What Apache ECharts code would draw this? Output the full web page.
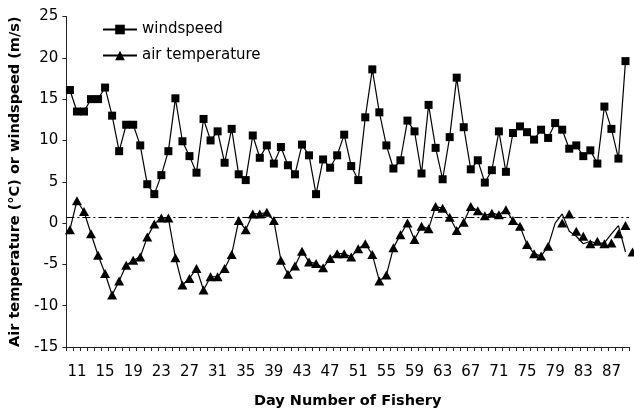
<!DOCTYPE html>
<html><head><meta charset="utf-8">
<script src="https://cdn.jsdelivr.net/npm/echarts@6/dist/echarts.min.js"></script>
<style>html,body{margin:0;padding:0;background:#fff}#c{width:634px;height:414px}</style>
</head><body><div id="c"></div>
<script>
// Day numbers of the fishery (categories)
const days = ['10','11','12','13','14','15','16','17','18','19',
  '20','21','22','23','24','25','26','27','28','29',
  '30','31','32','33','34','35','36','37','38','39',
  '40','41','42','43','44','45','46','47','48','49',
  '50','51','52','53','54','55','56','57','58','59',
  '60','61','62','63','64','65','66','67','68','69',
  '70','71','72','73','74','75','76','77','78','79',
  '80','81','82','83','84','85','86','87','88','89'];

// windspeed (m/s)
const windspeed = [16.1,13.5,13.5,15.0,15.0,16.4,13.0,8.7,11.9,11.9,
  9.4,4.7,3.5,5.8,8.7,15.1,9.9,8.1,6.1,12.6,
  10.0,11.1,7.3,11.4,5.9,5.2,10.6,7.9,9.4,7.2,
  9.2,7.0,5.9,9.5,8.2,3.5,7.7,6.7,8.2,10.7,
  6.9,5.2,12.8,18.6,13.4,9.4,6.6,7.6,12.4,11.1,
  6.0,14.3,9.1,5.3,10.4,17.6,11.6,6.5,7.6,4.9,
  6.4,11.1,6.2,10.9,11.7,11.0,10.1,11.3,10.3,12.1,
  11.3,9.0,9.4,8.1,8.8,7.2,14.1,11.4,7.8,19.6];

// air temperature (°C)
const airTemperature = [-0.8,2.7,1.4,-1.3,-3.9,-6.1,-8.7,-7.0,-5.1,-4.5,
  -4.1,-1.7,-0.1,0.6,0.6,-4.2,-7.5,-6.7,-5.5,-8.1,
  -6.5,-6.5,-5.5,-3.8,0.3,-0.8,1.1,1.1,1.3,0.3,
  -4.5,-6.2,-5.2,-3.4,-4.7,-4.9,-5.4,-4.3,-3.7,-3.7,
  -4.1,-3.1,-2.5,-3.8,-7.0,-6.3,-3.0,-1.4,0.0,-2.0,
  -0.4,-0.7,2.0,1.8,0.7,-0.9,0.1,2.0,1.5,0.9,
  1.2,1.0,1.6,0.3,-0.4,-2.6,-3.7,-4.0,-2.8,0.0,
  1.1,-1.0,-1.6,-2.5,-2.2,-2.5,-2.4,-1.3,-0.3,-3.5];

// from this day on, the original plots the triangle markers one day to the right of the line vertices
const markerShiftDay = '79';
const referenceLevel = 0.7;
const yMin = -15, yMax = 25, yStep = 5;
const labelEvery = 4, firstLabelDay = '11';

const shiftIdx = days.indexOf(markerShiftDay);
const firstLabelIdx = days.indexOf(firstLabelDay);

const lineData = airTemperature.map((v, i) => i < shiftIdx ? v : { value: v, symbol: 'none' });
const shiftedMarkers = [];
for (let i = shiftIdx; i < airTemperature.length; i++) shiftedMarkers.push([i + 1, airTemperature[i]]);

const FONT = 'DejaVu Sans';
const TRI = [10, 9];
const chart = echarts.init(document.getElementById('c'), null, { renderer: 'canvas' });
chart.setOption({
  animation: false,
  backgroundColor: '#fff',
  grid: { left: 66, right: 5, top: 16.5, bottom: 67, containLabel: false },
  legend: {
    orient: 'vertical', left: 97, top: 17, itemWidth: 34, itemHeight: 12, itemGap: 11,
    textStyle: { fontFamily: FONT, fontSize: 15, color: '#000' },
    data: ['windspeed', 'air temperature']
  },
  xAxis: {
    type: 'category', data: days, boundaryGap: true,
    name: 'Day Number of Fishery', nameLocation: 'middle', nameGap: 47,
    nameTextStyle: { fontFamily: FONT, fontWeight: 'bold', fontSize: 14.5, color: '#000' },
    axisLine: { show: true, onZero: false, lineStyle: { color: '#222', width: 1 } },
    axisTick: { show: true, length: 4, interval: 0, alignWithLabel: false, lineStyle: { color: '#222' } },
    axisLabel: { margin: 18, fontFamily: FONT, fontSize: 15, color: '#000',
      interval: (idx) => idx >= firstLabelIdx && (idx - firstLabelIdx) % labelEvery === 0 },
    splitLine: { show: false }
  },
  yAxis: {
    type: 'value', min: yMin, max: yMax, interval: yStep,
    name: 'Air temperature (°C) or windspeed (m/s)', nameLocation: 'middle', nameGap: 41,
    nameTextStyle: { fontFamily: FONT, fontWeight: 'bold', fontSize: 14.5, color: '#000' },
    axisLine: { show: true, lineStyle: { color: '#222', width: 1 } },
    axisTick: { show: true, length: 4, lineStyle: { color: '#222' } },
    axisLabel: { margin: 8, fontFamily: FONT, fontSize: 15, color: '#000' },
    splitLine: { show: false }
  },
  series: [
    {
      name: 'windspeed', type: 'line', data: windspeed,
      symbol: 'rect', symbolSize: 8, showAllSymbol: true,
      lineStyle: { color: '#000', width: 1.2 }, itemStyle: { color: '#000', opacity: 1 }
    },
    {
      name: 'air temperature', type: 'line', data: lineData,
      symbol: 'triangle', symbolSize: TRI, showAllSymbol: true,
      lineStyle: { color: '#000', width: 1.2 }, itemStyle: { color: '#000', opacity: 1 },
      markLine: {
        silent: true, symbol: ['none', 'none'], label: { show: false },
        lineStyle: { color: '#000', width: 1, type: [8, 3, 2, 3] },
        data: [{ yAxis: referenceLevel }]
      }
    },
    {
      name: 'air temperature markers', type: 'scatter', data: shiftedMarkers, clip: false,
      symbol: 'triangle', symbolSize: TRI, itemStyle: { color: '#000', opacity: 1 }
    }
  ]
});
</script></body></html>
